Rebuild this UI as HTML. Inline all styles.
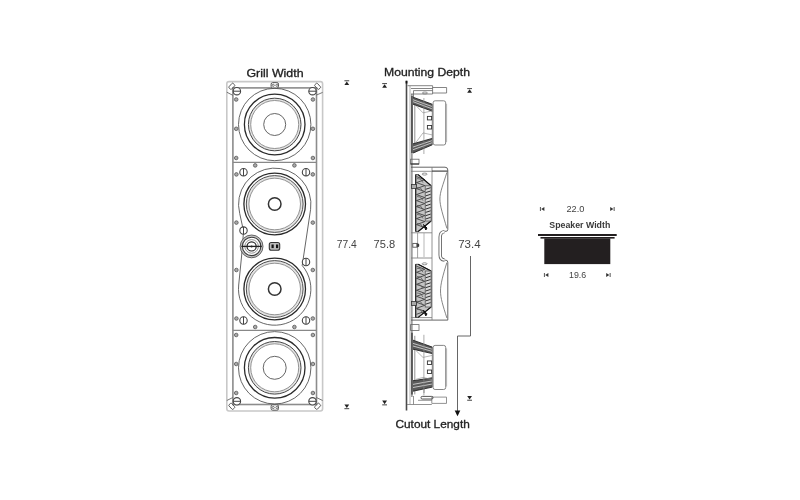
<!DOCTYPE html>
<html><head><meta charset="utf-8">
<style>
html,body{margin:0;padding:0;background:#fff;width:800px;height:500px;overflow:hidden}
svg{position:absolute;left:0;top:0;will-change:transform}
text{font-family:"Liberation Sans",sans-serif}
</style></head><body>
<svg width="800" height="500" viewBox="0 0 800 500">
<rect width="800" height="500" fill="#fff"/>

<g fill="none">
<rect x="226.8" y="81.6" width="95.8" height="329.4" rx="2.2" stroke="#c8c8c8" stroke-width="1.6"/>
<rect x="232.9" y="87.9" width="83.6" height="316.6" stroke="#8c8c8c" stroke-width="1.6"/>
<line x1="233" y1="162.4" x2="316.5" y2="162.4" stroke="#888" stroke-width="1.2"/>
<line x1="233" y1="330.4" x2="316.5" y2="330.4" stroke="#888" stroke-width="1.2"/>
<path d="M226.8 92.2 L232.8 95.3 M322.6 92.4 L316.4 95.1 M226.8 400.5 L232.8 397.5 M322.6 400.5 L316.4 397.5" stroke="#555" stroke-width="0.8"/>
<rect x="228.8" y="84.5" width="6" height="3.6" rx="0.8" transform="rotate(-48 231.8 86.3)" stroke="#555" stroke-width="0.9"/>
<rect x="314.6" y="84.5" width="6" height="3.6" rx="0.8" transform="rotate(48 317.6 86.3)" stroke="#555" stroke-width="0.9"/>
<rect x="228.8" y="404.5" width="6" height="3.6" rx="0.8" transform="rotate(48 231.8 406.3)" stroke="#555" stroke-width="0.9"/>
<rect x="314.6" y="404.5" width="6" height="3.6" rx="0.8" transform="rotate(-48 317.6 406.3)" stroke="#555" stroke-width="0.9"/>
<rect x="271.1" y="82.6" width="7.4" height="5.4" rx="1.6" fill="#fff" stroke="#555" stroke-width="1"/>
<circle cx="273.2" cy="85.3" r="1.1" fill="none" stroke="#555" stroke-width="0.8"/>
<circle cx="276.9" cy="85.3" r="1.1" fill="none" stroke="#555" stroke-width="0.8"/>
<rect x="271.1" y="404.8" width="7.4" height="5.4" rx="1.6" fill="#fff" stroke="#555" stroke-width="1"/>
<circle cx="273.2" cy="407.5" r="1.1" fill="none" stroke="#555" stroke-width="0.8"/>
<circle cx="276.9" cy="407.5" r="1.1" fill="none" stroke="#555" stroke-width="0.8"/>
</g>
<path d="M302.2 265.5 L310.6 209.3 A36.2 36.2 0 1 0 239.7 213.4 L243.3 230 M243.5 232 L241.6 256 L238.7 285 A36.2 36.2 0 1 0 302.2 265.5" fill="none" stroke="#555" stroke-width="0.9"/>
<g fill="none"><circle cx="274.7" cy="124.5" r="36.2" stroke-width="0.9" stroke="#555"/><circle cx="274.7" cy="124.5" r="25.1" stroke-width="2.2" stroke="#e4e4e4"/><circle cx="274.7" cy="124.5" r="30.3" stroke-width="1.3" stroke="#2a2a2a"/><circle cx="274.7" cy="124.5" r="26.3" stroke-width="1" stroke="#484848"/><circle cx="274.7" cy="124.5" r="24" stroke-width="0.9" stroke="#888"/><circle cx="274.7" cy="124.5" r="11" stroke-width="0.9" stroke="#555"/></g>
<g fill="none"><circle cx="274.7" cy="204" r="27.1" stroke-width="2.6" stroke="#e2e2e2"/><circle cx="274.7" cy="204" r="30.8" stroke-width="1.3" stroke="#2a2a2a"/><circle cx="274.7" cy="204" r="28.4" stroke-width="1" stroke="#505050"/><circle cx="274.7" cy="204" r="25.8" stroke-width="0.9" stroke="#888"/><circle cx="274.7" cy="204" r="6.3" stroke-width="1.5" stroke="#333"/></g>
<g fill="none"><circle cx="274.7" cy="289" r="27.1" stroke-width="2.6" stroke="#e2e2e2"/><circle cx="274.7" cy="289" r="30.8" stroke-width="1.3" stroke="#2a2a2a"/><circle cx="274.7" cy="289" r="28.4" stroke-width="1" stroke="#505050"/><circle cx="274.7" cy="289" r="25.8" stroke-width="0.9" stroke="#888"/><circle cx="274.7" cy="289" r="6.3" stroke-width="1.5" stroke="#333"/></g>
<g fill="none"><circle cx="274.7" cy="367.8" r="36.2" stroke-width="0.9" stroke="#555"/><circle cx="274.7" cy="367.8" r="25.1" stroke-width="2.2" stroke="#e4e4e4"/><circle cx="274.7" cy="367.8" r="30.3" stroke-width="1.3" stroke="#2a2a2a"/><circle cx="274.7" cy="367.8" r="26.3" stroke-width="1" stroke="#484848"/><circle cx="274.7" cy="367.8" r="24" stroke-width="0.9" stroke="#888"/><circle cx="274.7" cy="367.8" r="11.5" stroke-width="0.9" stroke="#555"/></g>
<g fill="none">
<circle cx="251.6" cy="246.4" r="10.3" stroke-width="2.2" stroke="#c4c4c4" fill="#fff"/>
<circle cx="251.6" cy="246.4" r="11.4" stroke-width="0.8" stroke="#444"/>
<circle cx="251.6" cy="246.4" r="9.2" stroke-width="1.1" stroke="#3a3a3a"/>
<circle cx="251.6" cy="246.4" r="6.8" stroke-width="0.9" stroke="#888"/>
<circle cx="251.6" cy="246.4" r="4.6" stroke-width="1.2" stroke="#222"/>
<line x1="241.4" y1="246.4" x2="261.8" y2="246.4" stroke-width="1.3" stroke="#222"/>
<circle cx="251.6" cy="246.4" r="1" fill="#222" stroke="none"/>
</g>
<rect x="269.3" y="242.5" width="10.4" height="7.8" rx="2" fill="#bbb" stroke="#333" stroke-width="1.1"/>
<rect x="271.5" y="244.5" width="2.2" height="3.6" fill="#111"/>
<rect x="276" y="244.5" width="2.2" height="3.6" fill="#111"/>

<circle cx="236.9" cy="91.2" r="3.7" stroke="#444" stroke-width="1.1" fill="#fff"/><line x1="233.20000000000002" y1="91.2" x2="240.6" y2="91.2" stroke="#444" stroke-width="1"/>
<circle cx="312.5" cy="91.2" r="3.7" stroke="#444" stroke-width="1.1" fill="#fff"/><line x1="308.8" y1="91.2" x2="316.2" y2="91.2" stroke="#444" stroke-width="1"/>
<circle cx="236.9" cy="401.3" r="3.7" stroke="#444" stroke-width="1.1" fill="#fff"/><line x1="233.20000000000002" y1="401.3" x2="240.6" y2="401.3" stroke="#444" stroke-width="1"/>
<circle cx="312.5" cy="401.3" r="3.7" stroke="#444" stroke-width="1.1" fill="#fff"/><line x1="308.8" y1="401.3" x2="316.2" y2="401.3" stroke="#444" stroke-width="1"/>
<circle cx="243.5" cy="172.2" r="3.7" stroke="#444" stroke-width="1.1" fill="#fff"/><line x1="243.5" y1="168.5" x2="243.5" y2="175.89999999999998" stroke="#444" stroke-width="1"/>
<circle cx="306" cy="172.2" r="3.7" stroke="#444" stroke-width="1.1" fill="#fff"/><line x1="306" y1="168.5" x2="306" y2="175.89999999999998" stroke="#444" stroke-width="1"/>
<circle cx="243.5" cy="230.6" r="3.7" stroke="#444" stroke-width="1.1" fill="#fff"/><line x1="243.5" y1="226.9" x2="243.5" y2="234.29999999999998" stroke="#444" stroke-width="1"/>
<circle cx="306" cy="262" r="3.7" stroke="#444" stroke-width="1.1" fill="#fff"/><line x1="306" y1="258.3" x2="306" y2="265.7" stroke="#444" stroke-width="1"/>
<circle cx="243.5" cy="320.5" r="3.7" stroke="#444" stroke-width="1.1" fill="#fff"/><line x1="243.5" y1="316.8" x2="243.5" y2="324.2" stroke="#444" stroke-width="1"/>
<circle cx="306" cy="320.5" r="3.7" stroke="#444" stroke-width="1.1" fill="#fff"/><line x1="306" y1="316.8" x2="306" y2="324.2" stroke="#444" stroke-width="1"/>
<circle cx="236.2" cy="99.5" r="1.8" stroke="#555" stroke-width="0.8" fill="#aaa"/>
<circle cx="312.9" cy="99.5" r="1.8" stroke="#555" stroke-width="0.8" fill="#aaa"/>
<circle cx="236.2" cy="128.8" r="1.8" stroke="#555" stroke-width="0.8" fill="#aaa"/>
<circle cx="312.9" cy="128.8" r="1.8" stroke="#555" stroke-width="0.8" fill="#aaa"/>
<circle cx="236.2" cy="158" r="1.8" stroke="#555" stroke-width="0.8" fill="#aaa"/>
<circle cx="312.9" cy="158" r="1.8" stroke="#555" stroke-width="0.8" fill="#aaa"/>
<circle cx="255.2" cy="165.4" r="1.8" stroke="#555" stroke-width="0.8" fill="#aaa"/>
<circle cx="294.4" cy="165.4" r="1.8" stroke="#555" stroke-width="0.8" fill="#aaa"/>
<circle cx="236.4" cy="174.4" r="1.8" stroke="#555" stroke-width="0.8" fill="#aaa"/>
<circle cx="312.8" cy="174.4" r="1.8" stroke="#555" stroke-width="0.8" fill="#aaa"/>
<circle cx="236.4" cy="222.6" r="1.8" stroke="#555" stroke-width="0.8" fill="#aaa"/>
<circle cx="312.8" cy="222.6" r="1.8" stroke="#555" stroke-width="0.8" fill="#aaa"/>
<circle cx="236.4" cy="270" r="1.8" stroke="#555" stroke-width="0.8" fill="#aaa"/>
<circle cx="312.8" cy="270" r="1.8" stroke="#555" stroke-width="0.8" fill="#aaa"/>
<circle cx="236.4" cy="318.5" r="1.8" stroke="#555" stroke-width="0.8" fill="#aaa"/>
<circle cx="312.8" cy="318.5" r="1.8" stroke="#555" stroke-width="0.8" fill="#aaa"/>
<circle cx="255.2" cy="327" r="1.8" stroke="#555" stroke-width="0.8" fill="#aaa"/>
<circle cx="294.4" cy="327" r="1.8" stroke="#555" stroke-width="0.8" fill="#aaa"/>
<circle cx="236.2" cy="335" r="1.8" stroke="#555" stroke-width="0.8" fill="#aaa"/>
<circle cx="312.9" cy="335" r="1.8" stroke="#555" stroke-width="0.8" fill="#aaa"/>
<circle cx="236.2" cy="364" r="1.8" stroke="#555" stroke-width="0.8" fill="#aaa"/>
<circle cx="312.9" cy="364" r="1.8" stroke="#555" stroke-width="0.8" fill="#aaa"/>
<circle cx="236.2" cy="393" r="1.8" stroke="#555" stroke-width="0.8" fill="#aaa"/>
<circle cx="312.9" cy="393" r="1.8" stroke="#555" stroke-width="0.8" fill="#aaa"/>
<g stroke="#222" stroke-width="0.3">
<text x="246.4" y="76.6" font-size="11" font-weight="normal" fill="#222" textLength="57.2" lengthAdjust="spacingAndGlyphs">Grill Width</text>
<text x="384.0" y="75.6" font-size="11" font-weight="normal" fill="#222" textLength="86" lengthAdjust="spacingAndGlyphs">Mounting Depth</text>
<text x="395.5" y="427.8" font-size="11" font-weight="normal" fill="#222" textLength="74.3" lengthAdjust="spacingAndGlyphs">Cutout Length</text>
</g>
<text x="336.8" y="248" font-size="10" font-weight="normal" fill="#444" textLength="20" lengthAdjust="spacingAndGlyphs">77.4</text>
<text x="373.6" y="248" font-size="10" font-weight="normal" fill="#444" textLength="21.6" lengthAdjust="spacingAndGlyphs">75.8</text>
<text x="458.2" y="248" font-size="10" font-weight="normal" fill="#444" textLength="22.4" lengthAdjust="spacingAndGlyphs">73.4</text>
<rect x="344.40000000000003" y="80.2" width="4.8" height="1.1" fill="#555"/><path d="M346.8 81.4 L349.2 85.0 L344.40000000000003 85.0Z" fill="#222"/>
<path d="M344.40000000000003 404.4 L349.2 404.4 L346.8 408.0Z" fill="#222"/><rect x="344.40000000000003" y="408.09999999999997" width="4.8" height="1.1" fill="#555"/>
<rect x="382.20000000000005" y="83" width="4.8" height="1.1" fill="#555"/><path d="M384.6 84.2 L387.0 87.8 L382.20000000000005 87.8Z" fill="#222"/>
<path d="M382.20000000000005 400.6 L387.0 400.6 L384.6 404.20000000000005Z" fill="#222"/><rect x="382.20000000000005" y="404.3" width="4.8" height="1.1" fill="#555"/>
<rect x="467.20000000000005" y="88" width="4.8" height="1.1" fill="#555"/><path d="M469.6 89.2 L472.0 92.8 L467.20000000000005 92.8Z" fill="#222"/>
<path d="M467.20000000000005 396 L472.0 396 L469.6 399.6Z" fill="#222"/><rect x="467.20000000000005" y="399.7" width="4.8" height="1.1" fill="#555"/>
<path d="M470.5 256 V336 H457.5 V412" fill="none" stroke="#666" stroke-width="1"/>
<path d="M454.7 410.6 L460.3 410.6 L457.5 416.2Z" fill="#111"/>
<g fill="none" stroke-width="0.8">
<line x1="406.5" y1="80.8" x2="406.5" y2="410.6" stroke="#4a4a4a" stroke-width="1.6"/>
<line x1="406.5" y1="80.8" x2="406.5" y2="83.5" stroke="#111" stroke-width="1.8"/>
<line x1="410" y1="86" x2="410" y2="404" stroke="#999" stroke-width="0.8"/>
<line x1="411.9" y1="94" x2="411.9" y2="397" stroke="#777" stroke-width="1.2"/>
<path d="M407.5 85.7 H432.6 V94 H411 M432.6 87.5 H446.6 V93 H432.6 M411 88.5 H432.6 M413.5 90.6 H432.6 M413.5 90.6 V97" stroke="#666"/>
<ellipse cx="424.9" cy="93" rx="2.6" ry="1" stroke="#777"/>
<path d="M407 404.5 H431.8 M431.8 397.1 H446.5 V403.4 H431.8 Z M418 400.3 H431.8 M413.5 396 V404.5 M424 388 V393" stroke="#777"/>
<rect x="421" y="396.4" width="12" height="2.6" rx="1.2" stroke="#444" stroke-width="0.9"/>
</g>
<path d="M412 96 V153" stroke="#333" stroke-width="1.3" fill="none"/>
<path d="M414.8 99 V153" stroke="#777" stroke-width="0.8" fill="none"/>
<path d="M413 97.2 L432.3 104.3 L432.3 111.2 L413 104.19999999999999Z" fill="#5a5a5a"/>
<path d="M413 99.73333333333333 L432.3 106.60000000000001 M413 101.66666666666667 L432.3 108.89999999999999" stroke="#e0e0e0" stroke-width="0.8" fill="none"/>
<path d="M413 97.2 L432.3 104.3 M432.3 111.2 L413 104.19999999999999" stroke="#222" stroke-width="0.9" fill="none"/>
<path d="M413 143.8 L432.3 138.4 L432.3 144.8 L413 153.0Z" fill="#5a5a5a"/>
<path d="M413 147.0666666666667 L432.3 140.53333333333333 M413 149.73333333333335 L432.3 142.66666666666666" stroke="#e0e0e0" stroke-width="0.8" fill="none"/>
<path d="M413 143.8 L432.3 138.4 M432.3 144.8 L413 153.0" stroke="#222" stroke-width="0.9" fill="none"/>
<path d="M416 105.6 L423 112.9 L432 110.9 M416 142.4 L423 132.9 L432 134.9" stroke="#999" stroke-width="0.7" fill="none"/>
<path d="M423.9 98 V154" stroke="#888" stroke-width="0.7" fill="none"/>
<path d="M432.3 104.3 V144.8" stroke="#666" stroke-width="0.8" fill="none"/>
<rect x="427.4" y="116.4" width="4.2" height="3.5" fill="#fff" stroke="#333" stroke-width="0.9"/>
<rect x="427.4" y="125.5" width="4.2" height="3.5" fill="#fff" stroke="#333" stroke-width="0.9"/>
<rect x="433.1" y="100.8" width="12.6" height="44.2" rx="2" fill="#fff" stroke="#777" stroke-width="0.9"/>
<path d="M446.6 103.8 V142" stroke="#999" stroke-width="0.7" fill="none"/>
<path d="M412 332.8 V394.4" stroke="#333" stroke-width="1.3" fill="none"/>
<path d="M414.8 335.8 V394.4" stroke="#777" stroke-width="0.8" fill="none"/>
<path d="M413 340.2 L432.3 347.1 L432.3 353.6 L413 349.20000000000005Z" fill="#5a5a5a"/>
<path d="M413 343.40000000000003 L432.3 349.2666666666667 M413 346.0 L432.3 351.4333333333334" stroke="#e0e0e0" stroke-width="0.8" fill="none"/>
<path d="M413 340.2 L432.3 347.1 M432.3 353.6 L413 349.20000000000005" stroke="#222" stroke-width="0.9" fill="none"/>
<path d="M413 380.7 L432.3 377.8 L432.3 387.1 L413 391.20000000000005Z" fill="#5a5a5a"/>
<path d="M413 384.40000000000003 L432.3 380.90000000000003 M413 387.5 L432.3 384.0" stroke="#e0e0e0" stroke-width="0.8" fill="none"/>
<path d="M413 380.7 L432.3 377.8 M432.3 387.1 L413 391.20000000000005" stroke="#222" stroke-width="0.9" fill="none"/>
<path d="M416 350.6 L423 357.45 L432 355.45 M416 379.3 L423 377.45 L432 379.45" stroke="#999" stroke-width="0.7" fill="none"/>
<path d="M423.9 334.8 V395.4" stroke="#888" stroke-width="0.7" fill="none"/>
<path d="M432.3 347.1 V387.1" stroke="#666" stroke-width="0.8" fill="none"/>
<rect x="427.4" y="360.95" width="4.2" height="3.5" fill="#fff" stroke="#333" stroke-width="0.9"/>
<rect x="427.4" y="370.05" width="4.2" height="3.5" fill="#fff" stroke="#333" stroke-width="0.9"/>
<rect x="433.1" y="345.4" width="12.6" height="44.10000000000002" rx="2" fill="#fff" stroke="#777" stroke-width="0.9"/>
<path d="M446.6 348.4 V386.5" stroke="#999" stroke-width="0.7" fill="none"/>
<rect x="410.6" y="159.2" width="8.4" height="4.8" fill="none" stroke="#666" stroke-width="0.8"/>
<line x1="410.6" y1="164" x2="419" y2="164" stroke="#222" stroke-width="1"/>
<rect x="410.6" y="324.6" width="8.4" height="5.8" fill="none" stroke="#666" stroke-width="0.8"/>
<path d="M411 167.2 H445 Q447.8 167.2 447.8 170 V229.5 Q447.8 231.3 446 231.3 H444.5" fill="none" stroke="#555" stroke-width="0.9"/>
<path d="M411 320.1 H447.8 V262.5 Q447.8 260.2 446 260.2 H444.5" fill="none" stroke="#555" stroke-width="0.9"/>
<path d="M444.5 231.6 Q440.2 232 440.2 237 V255 Q440.2 259.8 444.5 260" fill="none" stroke="#666" stroke-width="3.4"/>
<path d="M444.5 231.6 Q440.2 232 440.2 237 V255 Q440.2 259.8 444.5 260" fill="none" stroke="#fff" stroke-width="1.6"/>
<path d="M411 171.3 H432 M411 258 H432 M432 167.2 V320 M411 317.6 H432 M411 232.8 H432" fill="none" stroke="#777" stroke-width="0.8"/>
<path d="M446.9 172.4 C443 185 439.9 192 439.9 199 C439.9 206 443 215 446.9 228.4 M446.9 262.5 C443 275 440.5 284 440.5 291 C440.5 298 443 306 446.9 318" fill="none" stroke="#666" stroke-width="0.8"/>
<path d="M432 171.1 H447.6" stroke="#333" stroke-width="1.1"/>
<path d="M417.6 232.8 V258" stroke="#888" stroke-width="0.8"/>
<rect x="412.8" y="243.4" width="4" height="3.8" fill="#fff" stroke="#555" stroke-width="0.9"/>
<path d="M417.6 243.5 l1.2 0.8 v2 l-1.2 0.8z" fill="#222" stroke="#222" stroke-width="0.6"/>
<path d="M424 233 V257" stroke="#999" stroke-width="0.7"/>
<path d="M415.7 174.6 L418.2 174.6 L431.1 185.8 L431.1 221 L418.2 231.5 L415.7 231.5Z" fill="#c4c4c4" stroke="#333" stroke-width="0.8"/>
<path d="M416.5 176.6 L424.8 179.6 L416.5 182.6 L424.8 185.6 L416.5 188.6 L424.8 191.6 L416.5 194.6 L424.8 197.6 L416.5 200.6 L424.8 203.6 L416.5 206.6 L424.8 209.6 L416.5 212.6 L424.8 215.6 L416.5 218.6 L424.8 221.6 L416.5 224.6 L424.8 227.6 " fill="none" stroke="#3a3a3a" stroke-width="0.85"/>
<path d="M417 178.6 q4 -1 6 4" fill="none" stroke="#555" stroke-width="0.8"/>
<path d="M417 187.6 q4 -1 6 4" fill="none" stroke="#555" stroke-width="0.8"/>
<path d="M417 196.6 q4 -1 6 4" fill="none" stroke="#555" stroke-width="0.8"/>
<path d="M417 205.5 q4 -1 6 4" fill="none" stroke="#555" stroke-width="0.8"/>
<path d="M417 214.5 q4 -1 6 4" fill="none" stroke="#555" stroke-width="0.8"/>
<path d="M417 223.5 q4 -1 6 4" fill="none" stroke="#555" stroke-width="0.8"/>
<path d="M415.7 174.6 V231.5" stroke="#222" stroke-width="1.1" fill="none"/>
<path d="M418.2 174.6 L431.1 185.8 M418.2 231.5 L431.1 221" stroke="#111" stroke-width="1.2" fill="none"/>
<rect x="425.2" y="185.8" width="5.9" height="35.19999999999999" fill="#d8d8d8" stroke="#555" stroke-width="0.8"/>
<path d="M425.6 189.3 L430.6 187.7" stroke="#333" stroke-width="1"/>
<path d="M425.6 192.6 L430.6 191.0" stroke="#333" stroke-width="1"/>
<path d="M425.6 195.9 L430.6 194.3" stroke="#333" stroke-width="1"/>
<path d="M425.6 199.2 L430.6 197.6" stroke="#333" stroke-width="1"/>
<path d="M425.6 202.5 L430.6 200.9" stroke="#333" stroke-width="1"/>
<path d="M425.6 205.8 L430.6 204.2" stroke="#333" stroke-width="1"/>
<path d="M425.6 209.1 L430.6 207.5" stroke="#333" stroke-width="1"/>
<path d="M425.6 212.4 L430.6 210.8" stroke="#333" stroke-width="1"/>
<path d="M425.6 215.7 L430.6 214.1" stroke="#333" stroke-width="1"/>
<path d="M425.6 219.0 L430.6 217.4" stroke="#333" stroke-width="1"/>
<path d="M423.5 224.5 l3.5 3.5 l-1.2 2 z" fill="#111" stroke="#111" stroke-width="1"/>
<ellipse cx="424.6" cy="174.1" rx="2.5" ry="1" fill="none" stroke="#666" stroke-width="0.7"/>
<rect x="411.5" y="184.5" width="5" height="3.9" fill="#aaa" stroke="#333" stroke-width="0.8"/>
<path d="M415.7 264.3 L418.2 264.3 L431.1 271 L431.1 307 L418.2 317.4 L415.7 317.4Z" fill="#c4c4c4" stroke="#333" stroke-width="0.8"/>
<path d="M416.5 266.3 L424.8 269.3 L416.5 272.3 L424.8 275.3 L416.5 278.3 L424.8 281.3 L416.5 284.3 L424.8 287.3 L416.5 290.3 L424.8 293.3 L416.5 296.3 L424.8 299.3 L416.5 302.3 L424.8 305.3 L416.5 308.3 L424.8 311.3 L416.5 314.3 " fill="none" stroke="#3a3a3a" stroke-width="0.85"/>
<path d="M417 268.3 q4 -1 6 4" fill="none" stroke="#555" stroke-width="0.8"/>
<path d="M417 276.5 q4 -1 6 4" fill="none" stroke="#555" stroke-width="0.8"/>
<path d="M417 284.7 q4 -1 6 4" fill="none" stroke="#555" stroke-width="0.8"/>
<path d="M417 293.0 q4 -1 6 4" fill="none" stroke="#555" stroke-width="0.8"/>
<path d="M417 301.2 q4 -1 6 4" fill="none" stroke="#555" stroke-width="0.8"/>
<path d="M417 309.4 q4 -1 6 4" fill="none" stroke="#555" stroke-width="0.8"/>
<path d="M415.7 264.3 V317.4" stroke="#222" stroke-width="1.1" fill="none"/>
<path d="M418.2 264.3 L431.1 271 M418.2 317.4 L431.1 307" stroke="#111" stroke-width="1.2" fill="none"/>
<rect x="425.2" y="271" width="5.9" height="36" fill="#d8d8d8" stroke="#555" stroke-width="0.8"/>
<path d="M425.6 274.5 L430.6 272.9" stroke="#333" stroke-width="1"/>
<path d="M425.6 277.8 L430.6 276.2" stroke="#333" stroke-width="1"/>
<path d="M425.6 281.1 L430.6 279.5" stroke="#333" stroke-width="1"/>
<path d="M425.6 284.4 L430.6 282.8" stroke="#333" stroke-width="1"/>
<path d="M425.6 287.7 L430.6 286.1" stroke="#333" stroke-width="1"/>
<path d="M425.6 291.0 L430.6 289.4" stroke="#333" stroke-width="1"/>
<path d="M425.6 294.3 L430.6 292.7" stroke="#333" stroke-width="1"/>
<path d="M425.6 297.6 L430.6 296.0" stroke="#333" stroke-width="1"/>
<path d="M425.6 300.9 L430.6 299.3" stroke="#333" stroke-width="1"/>
<path d="M425.6 304.2 L430.6 302.6" stroke="#333" stroke-width="1"/>
<path d="M423.5 310.4 l3.5 3.5 l-1.2 2 z" fill="#111" stroke="#111" stroke-width="1"/>
<ellipse cx="424.6" cy="263.8" rx="2.5" ry="1" fill="none" stroke="#666" stroke-width="0.7"/>
<rect x="411.5" y="301.5" width="5" height="3.9" fill="#aaa" stroke="#333" stroke-width="0.8"/>
<text x="566.4" y="212.3" font-size="8.8" font-weight="normal" fill="#444" textLength="18" lengthAdjust="spacingAndGlyphs">22.0</text>
<g>
<text x="549.3" y="227.9" font-size="8.6" font-weight="bold" fill="#3a3a3a" textLength="61.0" lengthAdjust="spacingAndGlyphs">Speaker Width</text>
</g>
<rect x="539.9000000000001" y="207" width="1.1" height="4" fill="#666"/><path d="M541.2 209 L544.4000000000001 207 L544.4000000000001 211Z" fill="#333"/>
<rect x="613.6" y="207" width="1.1" height="4" fill="#666"/><path d="M613.4 209 L610.1999999999999 207 L610.1999999999999 211Z" fill="#333"/>
<rect x="538" y="234" width="78.7" height="2" fill="#231f20"/>
<rect x="540.5" y="237" width="74.1" height="1.6" fill="#231f20"/>
<rect x="544.3" y="238.4" width="66" height="25.7" fill="#231f20"/>
<text x="569.0" y="277.9" font-size="8.6" font-weight="normal" fill="#444" textLength="17.2" lengthAdjust="spacingAndGlyphs">19.6</text>
<rect x="543.9000000000001" y="273" width="1.1" height="4" fill="#666"/><path d="M545.2 275 L548.4000000000001 273 L548.4000000000001 277Z" fill="#333"/>
<rect x="609.6" y="273" width="1.1" height="4" fill="#666"/><path d="M609.4 275 L606.1999999999999 273 L606.1999999999999 277Z" fill="#333"/>
</svg>
</body></html>
